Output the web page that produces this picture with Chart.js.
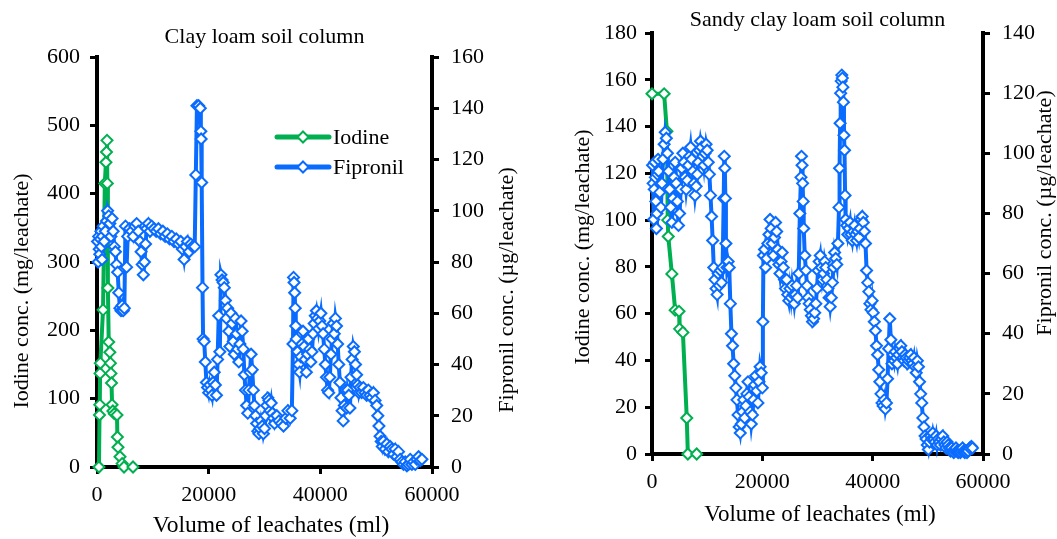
<!DOCTYPE html>
<html>
<head>
<meta charset="utf-8">
<script src="https://cdn.jsdelivr.net/npm/chart.js@4.4.1/dist/chart.umd.min.js"></script>
<style>
  body { margin: 0; background: #fff; }
  #wrap { position: relative; width: 1057px; height: 539px; }
  canvas { position: absolute; top: 0; }
</style>
</head>
<body>
<div id="wrap">
  <canvas id="clayChart" width="528" height="539" style="left:0"></canvas>
  <canvas id="sandyChart" width="529" height="539" style="left:528px"></canvas>
</div>
<script>
// Clay loam column - iodine (mg/leachate)
const clayIodineVol = [350, 450, 500, 550, 600, 1080, 1400, 1600, 1700, 1790, 1850, 1950, 2100, 2300, 2400, 2500, 2600, 2700, 2850, 3100, 3580, 3650, 3760, 4120, 4500, 4840, 6450];
const clayIodine = [0, 76, 91, 137, 152, 230, 415, 446, 461, 478, 415, 262, 183, 168, 152, 137, 123, 91, 82, 78, 76, 44, 29, 15, 5, 0, 0];

// Clay loam column - fipronil (µg/leachate)
const clayFipronilVol = [
  100, 200, 300, 400, 500, 600, 700, 800, 900, 1000, 1100, 1300, 1500, 1700, 1900, 2100, 2300, 2500, 2700, 2900,
  3100, 3300, 3500, 3700, 3900, 4100, 4300, 4500, 4700, 4900, 5100, 5300, 5500, 5800, 6200, 6500, 6800, 7100, 7400, 7700,
  7900, 8100, 8300, 8500, 8700, 8900, 9200, 9500, 9800, 10200, 10600, 11000, 11400, 11800, 12200, 12600, 13000, 13400, 13800, 14200,
  14600, 15000, 15300, 15600, 15900, 16200, 16500, 16800, 17100, 17500, 17700, 17900, 18200, 18500, 18600, 18650, 18750, 18900, 19000, 19200,
  19400, 19600, 19800, 20000, 20200, 20400, 20600, 20800, 21000, 21200, 21400, 21600, 21800, 22000, 22200, 22400, 22600, 22800, 23000, 23200,
  23400, 23600, 23800, 24000, 24200, 24400, 24600, 24800, 25000, 25200, 25400, 25600, 25800, 26000, 26200, 26400, 26600, 26800, 27000, 27200,
  27400, 27600, 27800, 28000, 28200, 28400, 28600, 28800, 29000, 29200, 29400, 29600, 29800, 30000, 30200, 30400, 30600, 30800, 31000, 31200,
  31400, 31600, 31800, 32200, 32600, 33000, 33400, 33800, 34200, 34600, 34900, 35100, 35200, 35300, 35400, 35500, 35600, 35700, 35900, 36100,
  36300, 36500, 36700, 36900, 37100, 37300, 37500, 37700, 37900, 38100, 38300, 38500, 38700, 38900, 39100, 39300, 39500, 39700, 39900, 40100,
  40300, 40500, 40700, 40900, 41100, 41300, 41500, 41700, 41900, 42100, 42300, 42500, 42700, 42900, 43100, 43300, 43500, 43700, 43900, 44100,
  44300, 44500, 44700, 44900, 45100, 45300, 45500, 45700, 45900, 46100, 46300, 46500, 46700, 46900, 47100, 47400, 47700, 48000, 48300, 48600,
  48900, 49200, 49500, 49800, 50100, 50300, 50500, 50700, 50900, 51100, 51300, 51600, 51900, 52200, 52500, 52800, 53100, 53400, 53700, 54000,
  54300, 54600, 54900, 55200, 55500, 55800, 56100, 56400, 56700, 57000, 57300, 57600, 57900, 58200
];
const clayFipronil = [
  88, 80, 90, 85, 83, 89, 92, 86, 81, 90, 94, 88, 92, 96, 100, 98, 95, 90, 97, 92,
  86, 84, 79, 76, 68, 62, 61, 63, 61, 62, 94, 78, 90, 93, 92, 90, 94, 95, 92, 88,
  84, 79, 75, 80, 87, 93, 95, 92, 94, 93, 92, 93, 91, 92, 90, 91, 89, 90, 88, 89,
  87, 88, 85, 81, 86, 88, 84, 87, 86, 86, 114, 141, 141, 140, 131, 128, 111, 70, 50, 49,
  41, 33, 31, 29, 32, 30, 28, 33, 37, 32, 28, 42, 59, 45, 75, 73, 72, 70, 65, 58,
  62, 53, 47, 60, 56, 49, 44, 58, 52, 46, 41, 48, 57, 53, 46, 36, 30, 24, 21, 30,
  37, 44, 38, 30, 24, 20, 17, 14, 13, 15, 18, 16, 13, 15, 20, 24, 27, 26, 22, 25,
  21, 19, 17, 20, 18, 17, 16, 19, 22, 19, 22, 48, 74, 72, 68, 62, 55, 50, 45, 40,
  37, 43, 48, 53, 47, 42, 37, 44, 50, 46, 41, 45, 52, 56, 59, 61, 58, 54, 57, 60,
  55, 52, 46, 40, 35, 30, 29, 35, 44, 50, 56, 52, 58, 55, 48, 40, 33, 27, 22, 18,
  24, 30, 23, 30, 28, 23, 35, 42, 47, 45, 40, 36, 32, 29, 31, 29, 31, 29, 28, 30,
  28, 27, 29, 26, 24, 20, 16, 12, 10, 8, 10, 7, 9, 6, 8, 7, 5, 7, 4, 6,
  3, 2, 1, 2, 0.5, 1, 3, 1, 2, 1, 3, 4, 2.5, 3
];

// Sandy clay loam column - iodine (mg/leachate)
const sandyIodineVol = [0, 2200, 2700, 2850, 2950, 3600, 4200, 4900, 5000, 5600, 6300, 6500, 8100];
const sandyIodine = [154, 154, 138, 100, 93, 77, 61.5, 61, 53.5, 52, 15.4, 0, 0];

// Sandy clay loam column - fipronil (µg/leachate)
const sandyFipronilVol = [
  100, 200, 300, 400, 500, 600, 700, 800, 900, 1000, 1100, 1200, 1400, 1600, 1800, 2000, 2200, 2400, 2600, 2800,
  3000, 3200, 3400, 3600, 3800, 4000, 4200, 4400, 4600, 4800, 5000, 5200, 5400, 5600, 5800, 6000, 6200, 6400, 6600, 6800,
  7000, 7200, 7400, 7600, 7800, 8000, 8200, 8400, 8600, 8800, 9000, 9200, 9400, 9600, 9800, 10000, 10200, 10400, 10600, 10800,
  11000, 11200, 11400, 11600, 11800, 12000, 12200, 12400, 12600, 12800, 13000, 13100, 13200, 13300, 13400, 13600, 13800, 14000, 14200, 14400,
  14600, 14800, 15000, 15200, 15400, 15600, 15800, 16000, 16200, 16400, 16600, 16800, 17000, 17200, 17400, 17600, 17800, 18000, 18200, 18400,
  18600, 18800, 19000, 19200, 19400, 19600, 19800, 20000, 20100, 20200, 20400, 20600, 20800, 21000, 21200, 21400, 21600, 21800, 22000, 22200,
  22400, 22600, 22800, 23000, 23200, 23400, 23600, 23800, 24000, 24200, 24400, 24600, 24800, 25000, 25200, 25400, 25600, 25800, 26000, 26200,
  26400, 26600, 26800, 27000, 27100, 27200, 27300, 27400, 27500, 27700, 27900, 28100, 28300, 28500, 28700, 28900, 29100, 29300, 29500, 29700,
  29900, 30100, 30300, 30500, 30700, 30900, 31100, 31300, 31500, 31700, 31900, 32100, 32300, 32500, 32700, 32900, 33100, 33300, 33500, 33700,
  33900, 34000, 34100, 34200, 34300, 34400, 34500, 34600, 34700, 34800, 34900, 35000, 35100, 35300, 35500, 35700, 35900, 36100, 36300, 36500,
  36700, 36900, 37100, 37300, 37500, 37700, 37900, 38100, 38300, 38500, 38700, 38900, 39100, 39300, 39500, 39700, 39900, 40100, 40300, 40500,
  40700, 40900, 41100, 41300, 41500, 41700, 41900, 42100, 42300, 42500, 42700, 42900, 43100, 43300, 43500, 43700, 43900, 44100, 44300, 44500,
  44700, 44900, 45100, 45300, 45500, 45700, 45900, 46100, 46300, 46500, 46700, 46900, 47100, 47300, 47500, 47700, 47900, 48100, 48300, 48500,
  48700, 48900, 49100, 49300, 49500, 49700, 49900, 50100, 50300, 50500, 50700, 50900, 51100, 51300, 51500, 51700, 51900, 52100, 52300, 52500,
  52700, 52900, 53100, 53300, 53500, 53700, 53900, 54100, 54300, 54500, 54700, 54900, 55100, 55300, 55500, 55700, 55900, 56100, 56300, 56500,
  56700, 56900, 57100, 57300, 57600, 57900, 58100
];
const sandyFipronil = [
  96, 90, 78, 88, 97, 92, 84, 75, 80, 93, 98, 94, 87, 82, 90, 98, 103, 107, 105, 100,
  94, 88, 82, 77, 85, 92, 97, 90, 84, 76, 80, 88, 95, 100, 97, 92, 88, 91, 96, 99,
  102, 98, 94, 90, 86, 89, 93, 97, 101, 104, 102, 99, 96, 100, 103, 101, 97, 93, 86, 79,
  71, 62, 58, 55, 53, 60, 56, 61, 57, 62, 85, 99, 95, 85, 70, 62, 64, 62, 50, 40,
  36, 30, 26, 22, 18, 13, 9, 7, 10, 14, 18, 12, 16, 20, 24, 19, 14, 10, 13, 18,
  23, 26, 21, 17, 24, 29, 27, 22, 44, 66, 68, 62, 65, 70, 73, 78, 75, 70, 66, 72,
  77, 74, 68, 63, 60, 64, 67, 62, 58, 55, 58, 53, 51, 55, 52, 56, 53, 50, 53, 56,
  52, 60, 80, 92, 99, 96, 90, 84, 75, 66, 61, 56, 52, 50, 48, 46, 44, 45, 47, 50,
  55, 61, 64, 66, 62, 58, 60, 64, 62, 58, 55, 52, 49, 52, 57, 62, 67, 65, 63, 70,
  82, 95, 110, 120, 124, 126, 125, 122, 117, 106, 101, 86, 78, 76, 73, 75, 77, 73, 71, 74,
  76, 73, 71, 74, 72, 75, 78, 79, 77, 74, 70, 61, 57, 54, 50, 48, 51, 47, 44, 41,
  36, 33, 28, 24, 20, 17, 16, 18, 15, 17, 25, 35, 45, 38, 30, 33, 31, 34, 32, 30,
  33, 35, 36, 34, 32, 31, 33, 32, 30, 31, 32, 33, 31, 30, 32, 29, 27, 31, 29, 24,
  20, 17, 12, 9, 6, 5, 3, 1.5, 4, 6, 5, 7, 5, 4, 6, 3, 5, 4, 3, 5,
  6, 4, 3, 2, 4, 3, 2, 1, 2, 1, 0.5, 1, 2, 1, 0.5, 1, 0.5, 1, 2, 1,
  0.5, 1, 0.5, 1, 2, 2.5, 2
];

// Axis ticks
const volumeTicks = { min: 0, max: 60000, step: 20000 };
const clayIodineTicks = { min: 0, max: 600, step: 100 };
const clayFipronilTicks = { min: 0, max: 160, step: 20 };
const sandyIodineTicks = { min: 0, max: 180, step: 20 };
const sandyFipronilTicks = { min: 0, max: 140, step: 20 };

const FONT = "'Liberation Serif', 'Times New Roman', serif";
const COLORS = { iodine: "#00b050", fipronil: "#0a6cff" };

const makeDataset = (label, vols, vals, color, axis, order) => ({
  label,
  data: vols.map((v, i) => ({ x: v, y: vals[i] })),
  yAxisID: axis,
  borderColor: color,
  backgroundColor: "#fff",
  borderWidth: 4,
  pointStyle: "rectRot",
  pointRadius: 5.5,
  pointBorderWidth: 2,
  pointBackgroundColor: "#fff",
  pointBorderColor: color,
  tension: 0,
  clip: 10,
  order,
});

const makeAxis = (t, position, size, padding, isX) => ({
  type: "linear",
  position,
  min: t.min,
  max: t.max,
  ticks: {
    stepSize: t.step,
    autoSkip: false,
    maxRotation: 0,
    padding,
    color: "#000",
    font: { family: FONT, size: 22 },
    callback: (v) => String(v),
  },
  grid: { drawOnChartArea: false, drawTicks: true, tickLength: 7, lineWidth: 3, color: "#000" },
  border: { display: true, width: 4, color: "#000" },
  afterFit: (scale) => {
    if (isX) scale.height = size;
    else scale.width = size;
  },
});

// Axis titles drawn by hand so the right one reads bottom-to-top like the left
const axisTitlePlugin = {
  id: "axisTitles",
  afterDraw(chart, args, opts) {
    const { ctx } = chart;
    ctx.save();
    ctx.fillStyle = "#000";
    ctx.textAlign = "center";
    ctx.textBaseline = "middle";
    (opts.items || []).forEach(({ text, x, y, rotate, size }) => {
      ctx.save();
      ctx.font = `${size || 22}px ${FONT}`;
      ctx.translate(x, y);
      if (rotate) ctx.rotate(-Math.PI / 2);
      ctx.fillText(text, 0, 0);
      ctx.restore();
    });
    ctx.restore();
  },
};

// Legend placed inside the plot of the first chart
const innerLegendPlugin = {
  id: "innerLegend",
  afterDraw(chart, args, opts) {
    if (!opts.items) return;
    const { ctx } = chart;
    ctx.save();
    opts.items.forEach(({ text, color, x, y }) => {
      ctx.strokeStyle = color;
      ctx.lineWidth = 5;
      ctx.lineCap = "round";
      ctx.beginPath();
      ctx.moveTo(x, y);
      ctx.lineTo(x + 52, y);
      ctx.stroke();
      ctx.fillStyle = "#fff";
      ctx.lineWidth = 2;
      ctx.beginPath();
      ctx.moveTo(x + 26, y - 5.5);
      ctx.lineTo(x + 31.5, y);
      ctx.lineTo(x + 26, y + 5.5);
      ctx.lineTo(x + 20.5, y);
      ctx.closePath();
      ctx.fill();
      ctx.stroke();
      ctx.fillStyle = "#000";
      ctx.font = `22px ${FONT}`;
      ctx.textAlign = "left";
      ctx.textBaseline = "middle";
      ctx.fillText(text, x + 56, y + 1);
    });
    ctx.restore();
  },
};

const makeChart = (canvasId, cfg) => {
  const ctx = document.getElementById(canvasId).getContext("2d");
  return new Chart(ctx, {
    type: "line",
    data: {
      datasets: [
        makeDataset("Iodine", cfg.iodineVol, cfg.iodine, COLORS.iodine, "y", 1),
        makeDataset("Fipronil", cfg.fipVol, cfg.fip, COLORS.fipronil, "y1", 0),
      ],
    },
    options: {
      responsive: false,
      animation: false,
      devicePixelRatio: 1,
      events: [],
      layout: { padding: 0 },
      scales: {
        x: makeAxis(volumeTicks, "bottom", cfg.xHeight, 8, true),
        y: makeAxis(cfg.iodineTicks, "left", cfg.leftWidth, cfg.leftPad, false),
        y1: makeAxis(cfg.fipTicks, "right", cfg.rightWidth, cfg.rightPad, false),
      },
      plugins: {
        legend: { display: false },
        tooltip: { enabled: false },
        title: {
          display: true,
          text: cfg.title,
          fullSize: false,
          color: "#000",
          font: { family: FONT, size: 22, weight: "normal", lineHeight: 1 },
          padding: cfg.titlePad,
        },
        axisTitles: { items: cfg.axisTitles },
        innerLegend: { items: cfg.legend },
      },
    },
    plugins: [axisTitlePlugin, innerLegendPlugin],
  });
};

makeChart("clayChart", {
  title: "Clay loam soil column",
  titlePad: { top: 26, bottom: 9 },
  iodineVol: clayIodineVol,
  iodine: clayIodine,
  fipVol: clayFipronilVol,
  fip: clayFipronil,
  iodineTicks: clayIodineTicks,
  fipTicks: clayFipronilTicks,
  leftWidth: 97,
  rightWidth: 96,
  xHeight: 72,
  leftPad: 10,
  rightPad: 12,
  axisTitles: [
    { text: "Volume of leachates (ml)", x: 271, y: 526, size: 23.5 },
    { text: "Iodine conc. (mg/leachate)", x: 22, y: 291, rotate: true },
    { text: "Fipronil conc. (µg/leachate)", x: 507, y: 290, rotate: true },
  ],
  legend: [
    { text: "Iodine", color: COLORS.iodine, x: 277, y: 137 },
    { text: "Fipronil", color: COLORS.fipronil, x: 277, y: 167 },
  ],
});

makeChart("sandyChart", {
  title: "Sandy clay loam soil column",
  titlePad: { top: 9, bottom: 2 },
  iodineVol: sandyIodineVol,
  iodine: sandyIodine,
  fipVol: sandyFipronilVol,
  fip: sandyFipronil,
  iodineTicks: sandyIodineTicks,
  fipTicks: sandyFipronilTicks,
  leftWidth: 124,
  rightWidth: 74,
  xHeight: 85,
  leftPad: 8,
  rightPad: 12,
  axisTitles: [
    { text: "Volume of leachates (ml)", x: 292, y: 515, size: 23 },
    { text: "Iodine conc. (mg/leachate)", x: 55, y: 247, rotate: true },
    { text: "Fipronil conc. (µg/leachate)", x: 517, y: 213, rotate: true },
  ],
  legend: null,
});
</script>
</body>
</html>
